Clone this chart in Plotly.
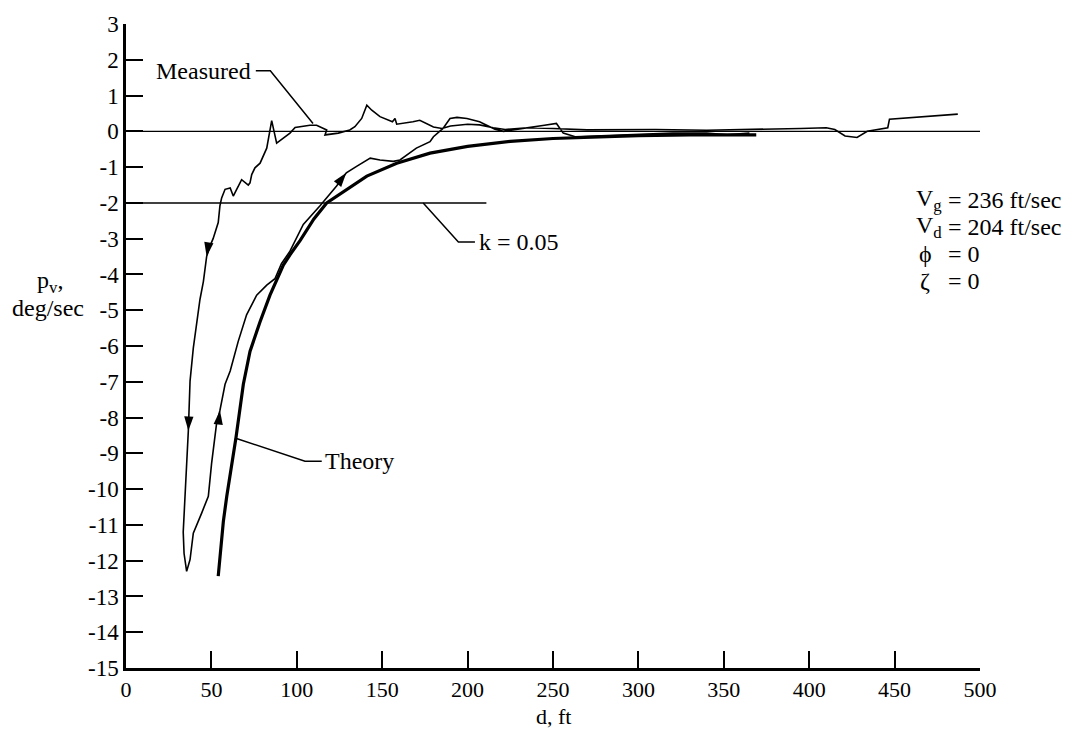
import plotly.graph_objects as go

# ---- data ----
measured_d = [487, 475, 461, 447, 446, 440, 434, 428, 421, 415, 410, 395, 370, 340, 310, 290, 270, 250, 235, 222,
              215, 207, 200, 190, 185, 180, 178, 172, 168, 158.5, 157.5, 156, 148.7, 143.9, 141, 138, 134, 131,
              124.3, 116.5, 117.5, 111.6, 107.7, 99, 96, 88.2, 85.3, 84.3, 82.4, 78.5, 75.5, 73.6, 72.6, 71.6,
              67.7, 64.8, 62.8, 61, 58, 56, 55, 54, 51, 49.2, 47.2, 45.3, 43.3, 39.4, 37.5, 36.5, 34.5, 33.5,
              34, 35.5, 37.5, 38.5, 39.4, 44.3, 48.2, 50.1, 53, 55, 58, 61, 65.7, 70.6, 76.5, 82.4, 87.2, 91,
              96, 103.8, 113.6, 123.3, 129, 135, 143, 148.7, 156.5, 160.4, 164.3, 170, 178, 180, 185.6, 189.7,
              193.8, 199.6, 207, 216, 221, 237, 245, 252, 256, 263, 280, 300, 320, 340, 352, 365]
measured_p = [0.48, 0.44, 0.38, 0.34, 0.10, 0.05, 0.00, -0.17, -0.13, 0.05, 0.10, 0.08, 0.05, 0.03, 0.05, 0.05,
              0.04, 0.08, 0.10, 0.05, 0.10, 0.18, 0.20, 0.15, 0.08, 0.12, 0.17, 0.31, 0.27, 0.20, 0.36, 0.27,
              0.41, 0.59, 0.73, 0.36, 0.13, 0.04, -0.05, -0.10, 0.04, 0.17, 0.17, 0.11, -0.05, -0.33, 0.30,
              0.04, -0.47, -0.89, -1.02, -1.21, -1.44, -1.50, -1.35, -1.62, -1.81, -1.58, -1.62, -1.86, -2.08,
              -2.55, -3.00, -3.20, -3.50, -4.20, -4.70, -6.06, -6.98, -8.37, -10.20, -11.20, -11.80, -12.30,
              -11.97, -11.50, -11.23, -10.67, -10.20, -9.29, -8.18, -7.80, -7.07, -6.70, -5.87, -5.13, -4.58,
              -4.30, -4.12, -3.70, -3.35, -2.60, -2.08, -1.53, -1.16, -0.98, -0.75, -0.80, -0.84, -0.80, -0.66,
              -0.47, -0.29, -0.15, 0.08, 0.36, 0.39, 0.36, 0.27, 0.06, 0.00, 0.10, 0.17, 0.22, -0.05, -0.15,
              -0.12, -0.08, -0.05, -0.05, -0.10, -0.05]

theory_d = [54, 57, 59, 64.4, 68.7, 72.6, 78.5, 84.3, 92, 96, 102, 106, 110, 117.5, 129, 141, 158.5, 178,
            200, 225, 250, 275, 300, 330, 369]
theory_p = [-12.43, -10.9, -10.2, -8.56, -7.07, -6.15, -5.32, -4.58, -3.75, -3.45, -3.05, -2.75, -2.45,
            -2.0, -1.63, -1.25, -0.89, -0.61, -0.42, -0.28, -0.20, -0.15, -0.12, -0.10, -0.10]

# direction arrows on the measured trace (position and heading, clockwise from up)
arrow_d = [47.2, 36.5, 55, 129]
arrow_p = [-3.5, -8.37, -7.8, -1.16]
arrow_angle = [189, 182, 7, 38]

x_ticks = [0, 50, 100, 150, 200, 250, 300, 350, 400, 450, 500]
y_ticks = list(range(-15, 4))

FONT = "Liberation Serif, Times New Roman, serif"

fig = go.Figure()
fig.add_trace(go.Scatter(x=measured_d, y=measured_p, mode="lines",
                         line=dict(color="black", width=1.6), showlegend=False, hoverinfo="skip"))
fig.add_trace(go.Scatter(x=theory_d, y=theory_p, mode="lines",
                         line=dict(color="black", width=3.2), showlegend=False, hoverinfo="skip"))
fig.add_trace(go.Scatter(x=arrow_d, y=arrow_p, mode="markers",
                         marker=dict(symbol="arrow", size=15, angle=arrow_angle, color="black",
                                     line=dict(width=0)),
                         showlegend=False, hoverinfo="skip"))

shapes = [
    dict(type="line", xref="x", yref="y", x0=0, x1=500, y0=0, y1=0, line=dict(color="black", width=1.1)),
    dict(type="line", xref="x", yref="y", x0=0, x1=211, y0=-2, y1=-2, line=dict(color="black", width=1.5)),
    # leaders
    dict(type="path", xref="x", yref="y", path="M 76,1.69 L 84.5,1.69 L 109.5,0.22",
         line=dict(color="black", width=1.5)),
    dict(type="path", xref="x", yref="y", path="M 174,-2 L 194.6,-3.09 L 204.3,-3.09",
         line=dict(color="black", width=1.5)),
    dict(type="path", xref="x", yref="y", path="M 63.8,-8.57 L 104.8,-9.22 L 114.6,-9.22",
         line=dict(color="black", width=1.5)),
]

ann = []
def txt(x, y, s, xanchor="left", xref="x", size=24):
    ann.append(dict(x=x, y=y, xref=xref, yref="y", text=s, showarrow=False, xanchor=xanchor,
                    yanchor="middle", font=dict(family=FONT, size=size, color="black")))

txt(74.4, 1.69, "Measured", "right")
txt(115.5, -9.22, "Theory", "left")
txt(205.3, -3.09, "k = 0.05", "left")
txt(478.9, -1.92, "V<sub>g</sub>", "right")
txt(480.1, -1.92, "= 236 ft/sec", "left")
txt(478.9, -2.67, "V<sub>d</sub>", "right")
txt(480.1, -2.67, "= 204 ft/sec", "left")
txt(467.8, -3.42, "ϕ", "center")
txt(480.1, -3.42, "= 0", "left")
txt(467.8, -4.17, "ζ", "center")
txt(480.1, -4.17, "= 0", "left")
txt(-0.089, -4.2, "p<sub>v</sub>,", "center", xref="paper")
txt(-0.091, -4.95, "deg/sec", "center", xref="paper")
ann.append(dict(x=0.5, y=-0.076, xref="paper", yref="paper", text="d, ft", showarrow=False,
                xanchor="center", yanchor="middle", font=dict(family=FONT, size=22, color="black")))

fig.update_layout(
    width=1077, height=730,
    margin=dict(l=126, r=97, t=20, b=62),
    paper_bgcolor="white", plot_bgcolor="white",
    shapes=shapes, annotations=ann,
    font=dict(family=FONT, color="black"),
)
fig.update_xaxes(range=[0, 500], tickvals=x_ticks, ticktext=[str(v) for v in x_ticks],
                 showgrid=False, zeroline=False, showline=True, linecolor="black", linewidth=2.5,
                 ticks="inside", ticklen=17, tickwidth=2, tickcolor="black",
                 tickfont=dict(family=FONT, size=22, color="black"))
fig.update_yaxes(range=[-15, 3], tickvals=y_ticks, ticktext=[str(v) for v in y_ticks],
                 showgrid=False, zeroline=False, showline=True, linecolor="black", linewidth=2.5,
                 ticks="inside", ticklen=17, tickwidth=2, tickcolor="black",
                 tickfont=dict(family=FONT, size=23, color="black"))

fig.write_html("out.html")
